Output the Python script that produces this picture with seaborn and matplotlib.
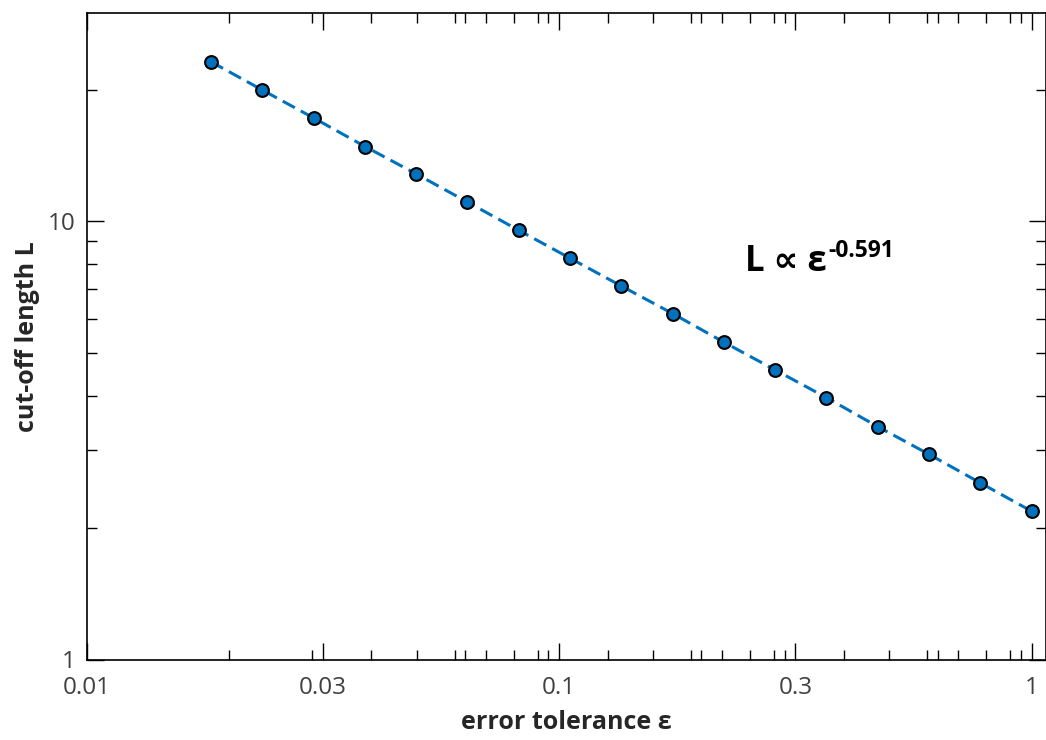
import numpy as np
import matplotlib
matplotlib.use("Agg")
import matplotlib.pyplot as plt
import seaborn as sns
from matplotlib.ticker import FixedLocator, FixedFormatter, NullFormatter

# ---- data ----
epsilon = [0.0183, 0.0235, 0.0302, 0.0388, 0.0498, 0.0639, 0.0821, 0.1054,
           0.1353, 0.1738, 0.2231, 0.2865, 0.3679, 0.4724, 0.6065, 0.7788, 1.0]
cutoff_L = [23.14, 19.95, 17.22, 14.82, 12.83, 11.07, 9.54, 8.24,
            7.12, 6.16, 5.30, 4.58, 3.96, 3.40, 2.94, 2.53, 2.18]
x_major = [0.01, 10 ** -1.5, 0.1, 10 ** -0.5, 1.0]
x_major_labels = ["0.01", "0.03", "0.1", "0.3", "1"]
y_major = [1, 10]
y_major_labels = ["1", "10"]
annot_main = "L \u221d \u03b5"
annot_exp = "-0.591"
x_label = "error tolerance \u03b5"
y_label = "cut-off length L"

sns.set_style("ticks")
plt.rcParams["font.family"] = ["Open Sans", "DejaVu Sans"]

W, H = 1046, 740
fig = plt.figure(figsize=(W / 100, H / 100), dpi=100)
ax = fig.add_axes([87 / W, 1 - 659.5 / H, (1046 - 87) / W, (659.5 - 13) / H])

blue = "#0072BD"
sns.lineplot(x=epsilon, y=cutoff_L, ax=ax, color=blue, lw=2.2, marker="o",
             markersize=9.2, markerfacecolor=blue, markeredgecolor="black",
             markeredgewidth=1.5, sort=True, zorder=3)
ax.lines[0].set_dashes([4.5, 2.2])

ax.set_xscale("log")
ax.set_yscale("log")
ax.set_xlim(0.01, 10 ** 0.0305)
ax.set_ylim(1, 29.9)

def minors(majors, lo, hi):
    out = []
    for m in majors:
        for k in range(2, 10):
            v = k * m
            if lo < v < hi and all(abs(v - mm) / mm > 1e-6 for mm in majors):
                out.append(v)
    return sorted(out)

ax.xaxis.set_major_locator(FixedLocator(x_major))
ax.xaxis.set_major_formatter(FixedFormatter(x_major_labels))
ax.xaxis.set_minor_locator(FixedLocator(minors(x_major, 0.01, 1.07)))
ax.xaxis.set_minor_formatter(NullFormatter())
ax.yaxis.set_major_locator(FixedLocator(y_major))
ax.yaxis.set_major_formatter(FixedFormatter(y_major_labels))
ax.yaxis.set_minor_locator(FixedLocator(minors(y_major, 1, 29.5)))
ax.yaxis.set_minor_formatter(NullFormatter())

ax.tick_params(which="both", direction="in", top=True, right=True,
               color="black", width=1.0)
ax.tick_params(which="major", length=12.5, labelsize=17.5,
               labelcolor="#404040")
ax.tick_params(axis="x", which="major", pad=12)
ax.tick_params(axis="y", which="major", pad=8)
ax.tick_params(which="minor", length=7)
for s in ax.spines.values():
    s.set_linewidth(1.2)
    s.set_color("black")

ax.set_xlabel(x_label, fontsize=18, fontweight="bold", labelpad=7)
ax.set_ylabel(y_label, fontsize=18, fontweight="bold", labelpad=6)

t1 = ax.text(0.247, 7.69, annot_main, fontsize=25, fontweight="bold",
             ha="left", va="baseline", color="black")
fig.canvas.draw()
bb = t1.get_window_extent()
base_px = ax.transData.transform((0.247, 7.69))[1]
fig.text((bb.x1 + 2) / W, (base_px + 14) / H, annot_exp, fontsize=16.5,
         fontweight="bold", ha="left", va="baseline", color="black")

fig.savefig("out.png", dpi=100)
